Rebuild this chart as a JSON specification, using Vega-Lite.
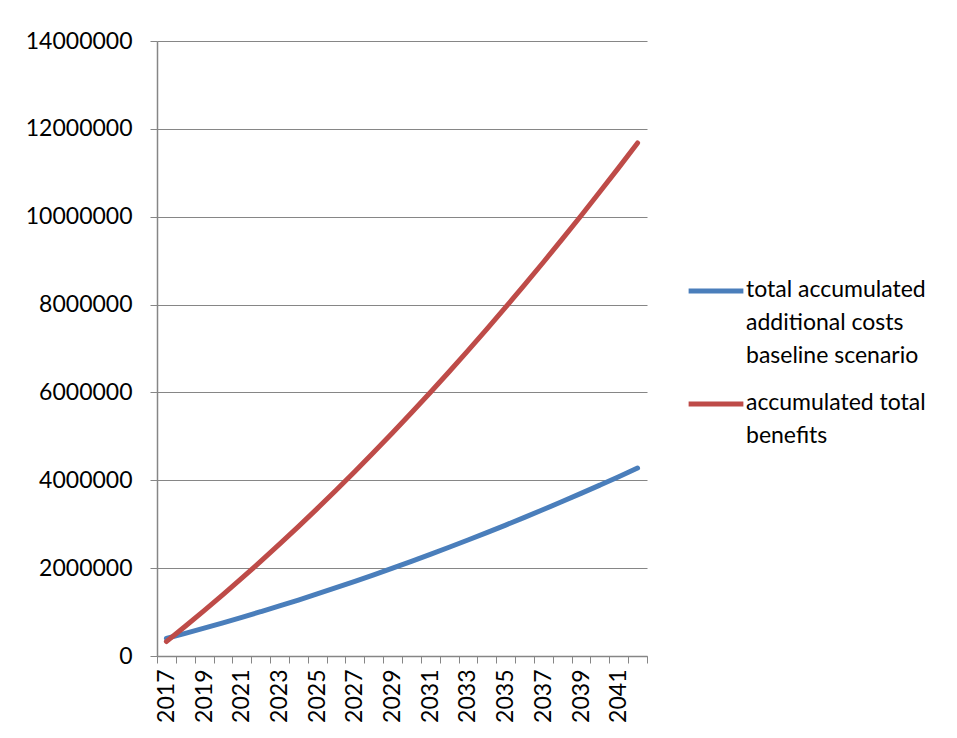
{
  "$schema": "https://vega.github.io/schema/vega-lite/v6.json",
  "autosize": "none",
  "width": 490,
  "height": 615,
  "padding": {"left": 157, "top": 41, "right": 310, "bottom": 82},
  "background": "white",
  "config": {
    "font": "Lato",
    "view": {"stroke": null},
    "style": {"guide-label": {"lineHeight": 33}}
  },
  "data": {
    "values": [
      {"year": 2017, "series": "total accumulated additional costs baseline scenario", "value": 400000},
      {"year": 2018, "series": "total accumulated additional costs baseline scenario", "value": 515000},
      {"year": 2019, "series": "total accumulated additional costs baseline scenario", "value": 633000},
      {"year": 2020, "series": "total accumulated additional costs baseline scenario", "value": 754000},
      {"year": 2021, "series": "total accumulated additional costs baseline scenario", "value": 879000},
      {"year": 2022, "series": "total accumulated additional costs baseline scenario", "value": 1008000},
      {"year": 2023, "series": "total accumulated additional costs baseline scenario", "value": 1139000},
      {"year": 2024, "series": "total accumulated additional costs baseline scenario", "value": 1274000},
      {"year": 2025, "series": "total accumulated additional costs baseline scenario", "value": 1412000},
      {"year": 2026, "series": "total accumulated additional costs baseline scenario", "value": 1554000},
      {"year": 2027, "series": "total accumulated additional costs baseline scenario", "value": 1699000},
      {"year": 2028, "series": "total accumulated additional costs baseline scenario", "value": 1847000},
      {"year": 2029, "series": "total accumulated additional costs baseline scenario", "value": 1999000},
      {"year": 2030, "series": "total accumulated additional costs baseline scenario", "value": 2154000},
      {"year": 2031, "series": "total accumulated additional costs baseline scenario", "value": 2313000},
      {"year": 2032, "series": "total accumulated additional costs baseline scenario", "value": 2475000},
      {"year": 2033, "series": "total accumulated additional costs baseline scenario", "value": 2640000},
      {"year": 2034, "series": "total accumulated additional costs baseline scenario", "value": 2808000},
      {"year": 2035, "series": "total accumulated additional costs baseline scenario", "value": 2980000},
      {"year": 2036, "series": "total accumulated additional costs baseline scenario", "value": 3155000},
      {"year": 2037, "series": "total accumulated additional costs baseline scenario", "value": 3334000},
      {"year": 2038, "series": "total accumulated additional costs baseline scenario", "value": 3516000},
      {"year": 2039, "series": "total accumulated additional costs baseline scenario", "value": 3701000},
      {"year": 2040, "series": "total accumulated additional costs baseline scenario", "value": 3890000},
      {"year": 2041, "series": "total accumulated additional costs baseline scenario", "value": 4082000},
      {"year": 2042, "series": "total accumulated additional costs baseline scenario", "value": 4280000},
      {"year": 2017, "series": "accumulated total benefits", "value": 330000},
      {"year": 2018, "series": "accumulated total benefits", "value": 677000},
      {"year": 2019, "series": "accumulated total benefits", "value": 1033000},
      {"year": 2020, "series": "accumulated total benefits", "value": 1398000},
      {"year": 2021, "series": "accumulated total benefits", "value": 1771000},
      {"year": 2022, "series": "accumulated total benefits", "value": 2154000},
      {"year": 2023, "series": "accumulated total benefits", "value": 2546000},
      {"year": 2024, "series": "accumulated total benefits", "value": 2946000},
      {"year": 2025, "series": "accumulated total benefits", "value": 3356000},
      {"year": 2026, "series": "accumulated total benefits", "value": 3774000},
      {"year": 2027, "series": "accumulated total benefits", "value": 4202000},
      {"year": 2028, "series": "accumulated total benefits", "value": 4638000},
      {"year": 2029, "series": "accumulated total benefits", "value": 5083000},
      {"year": 2030, "series": "accumulated total benefits", "value": 5537000},
      {"year": 2031, "series": "accumulated total benefits", "value": 5999000},
      {"year": 2032, "series": "accumulated total benefits", "value": 6471000},
      {"year": 2033, "series": "accumulated total benefits", "value": 6952000},
      {"year": 2034, "series": "accumulated total benefits", "value": 7442000},
      {"year": 2035, "series": "accumulated total benefits", "value": 7940000},
      {"year": 2036, "series": "accumulated total benefits", "value": 8447000},
      {"year": 2037, "series": "accumulated total benefits", "value": 8964000},
      {"year": 2038, "series": "accumulated total benefits", "value": 9490000},
      {"year": 2039, "series": "accumulated total benefits", "value": 10023000},
      {"year": 2040, "series": "accumulated total benefits", "value": 10567000},
      {"year": 2041, "series": "accumulated total benefits", "value": 11118000},
      {"year": 2042, "series": "accumulated total benefits", "value": 11680000}
    ]
  },
  "mark": {"type": "line", "strokeWidth": 5, "strokeCap": "round", "interpolate": "monotone"},
  "encoding": {
    "x": {
      "field": "year",
      "type": "quantitative",
      "scale": {"domain": [2016.5, 2042.5], "nice": false, "zero": false},
      "axis": {
        "title": null,
        "grid": false,
        "values": [2016.5, 2017, 2017.5, 2018.5, 2019, 2019.5, 2020.5, 2021, 2021.5, 2022.5, 2023, 2023.5, 2024.5, 2025, 2025.5, 2026.5, 2027, 2027.5, 2028.5, 2029, 2029.5, 2030.5, 2031, 2031.5, 2032.5, 2033, 2033.5, 2034.5, 2035, 2035.5, 2036.5, 2037, 2037.5, 2038.5, 2039, 2039.5, 2040.5, 2041, 2041.5, 2042.5],
        "labelExpr": "datum.value % 1 == 0 ? toString(datum.value) : ''",
        "tickOpacity": {"condition": {"test": "datum.value % 1 == 0", "value": 0}, "value": 1},
        "labelAngle": -90,
        "labelAlign": "right",
        "labelBaseline": "middle",
        "labelFontSize": 23,
        "labelColor": "black",
        "labelPadding": 6,
        "labelOverlap": false,
        "labelFlush": false,
        "tickSize": 7,
        "tickColor": "#868686",
        "domainColor": "#868686",
        "domainWidth": 1.5
      }
    },
    "y": {
      "field": "value",
      "type": "quantitative",
      "scale": {"domain": [0, 14000000], "nice": false},
      "axis": {
        "title": null,
        "values": [0, 2000000, 4000000, 6000000, 8000000, 10000000, 12000000, 14000000],
        "format": "d",
        "labelFontSize": 23,
        "labelColor": "black",
        "labelPadding": 18,
        "tickSize": 7,
        "tickColor": "#868686",
        "gridColor": "#868686",
        "gridWidth": 1.2,
        "gridOpacity": 1,
        "domainColor": "#868686",
        "domainWidth": 1.5
      }
    },
    "color": {
      "field": "series",
      "type": "nominal",
      "scale": {
        "domain": ["total accumulated additional costs baseline scenario", "accumulated total benefits"],
        "range": ["#4A7EBB", "#BE4B48"]
      },
      "legend": {
        "title": null,
        "orient": "none",
        "legendX": 529,
        "legendY": 220,
        "symbolType": "stroke",
        "symbolSize": 3000,
        "symbolStrokeWidth": 5,
        "labelFontSize": 23,
        "labelColor": "black",
        "labelLimit": 400,
        "labelOffset": 0,
        "labelBaseline": "top",
        "rowPadding": 6,
        "labelExpr": "datum.label == 'accumulated total benefits' ? ['accumulated total', 'benefits'] : ['total accumulated', 'additional costs', 'baseline scenario']",
        "encode": {"labels": {"update": {"dy": {"value": -12}}}}
      }
    }
  }
}
